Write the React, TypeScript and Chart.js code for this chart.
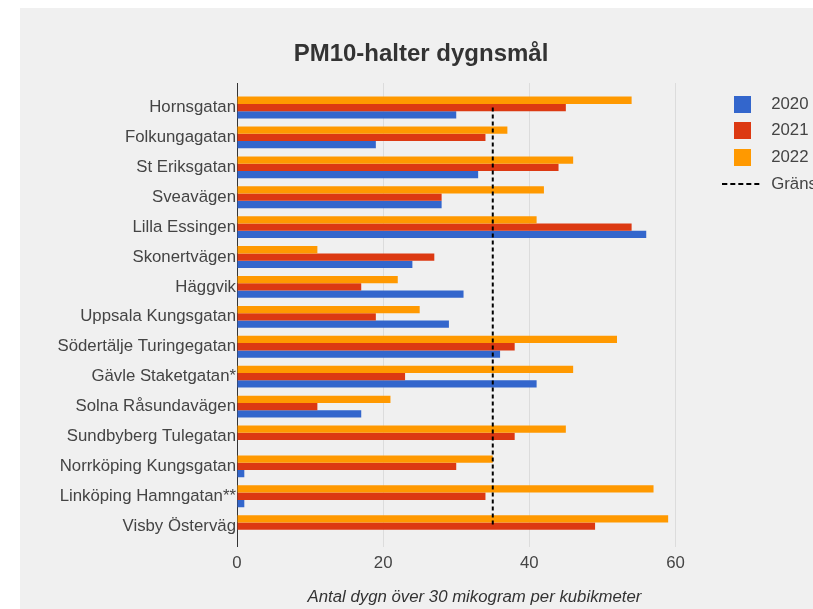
import { useEffect, useRef } from 'react';
import { Chart, registerables } from 'chart.js';

Chart.register(...registerables);

const categories = [
  'Hornsgatan',
  'Folkungagatan',
  'St Eriksgatan',
  'Sveavägen',
  'Lilla Essingen',
  'Skonertvägen',
  'Häggvik',
  'Uppsala Kungsgatan',
  'Södertälje Turingegatan',
  'Gävle Staketgatan*',
  'Solna Råsundavägen',
  'Sundbyberg Tulegatan',
  'Norrköping Kungsgatan',
  'Linköping Hamngatan**',
  'Visby Österväg',
];

const values2020: (number | null)[] = [30, 19, 33, 28, 56, 24, 31, 29, 36, 41, 17, null, 1, 1, null];
const values2021: (number | null)[] = [45, 34, 44, 28, 54, 27, 17, 19, 38, 23, 11, 38, 30, 34, 49];
const values2022: (number | null)[] = [54, 37, 46, 42, 41, 11, 22, 25, 52, 46, 21, 45, 35, 57, 59];
const limitValue = 35;

const seriesLabels = ['2020', '2021', '2022'];
const limitLabel = 'Gränsvärde';
const xTicks = [0, 20, 40, 60];

const chartTitle = 'PM10-halter dygnsmål';
const xTitle = 'Antal dygn över 30 mikogram per kubikmeter';

const COLORS = ['#3366cc', '#dc3912', '#ff9900'];
const FONT = "'Liberation Sans', Arial, sans-serif";
const TEXT = '#444444';

function toPoints(vals: (number | null)[]) {
  return vals
    .map((v, i) => ({ x: v, y: i }))
    .filter((d) => d.x !== null);
}

function swatch(color: string) {
  const c = document.createElement('canvas');
  c.width = 17;
  c.height = 17;
  const g = c.getContext('2d')!;
  g.fillStyle = color;
  g.fillRect(0, 0, 17, 17);
  return c;
}

function dashSwatch() {
  const c = document.createElement('canvas');
  c.width = 40;
  c.height = 2;
  const g = c.getContext('2d')!;
  g.strokeStyle = '#000000';
  g.lineWidth = 2;
  g.setLineDash([5, 3]);
  g.beginPath();
  g.moveTo(0, 1);
  g.lineTo(40, 1);
  g.stroke();
  return c;
}

export default function App() {
  const ref = useRef<HTMLCanvasElement | null>(null);

  useEffect(() => {
    if (!ref.current) return;
    Chart.defaults.font.family = FONT;
    const swatches = COLORS.map(swatch);
    const dash = dashSwatch();

    // datasets drawn top-to-bottom within a group: 2022, 2021, 2020
    const chart = new Chart(ref.current, {
      type: 'bar',
      data: {
        datasets: [
          {
            label: seriesLabels[2],
            data: toPoints(values2022) as any,
            backgroundColor: COLORS[2],
            categoryPercentage: 0.73,
            barPercentage: 1.0,
            borderWidth: 0,
          },
          {
            label: seriesLabels[1],
            data: toPoints(values2021) as any,
            backgroundColor: COLORS[1],
            categoryPercentage: 0.73,
            barPercentage: 1.0,
            borderWidth: 0,
          },
          {
            label: seriesLabels[0],
            data: toPoints(values2020) as any,
            backgroundColor: COLORS[0],
            categoryPercentage: 0.73,
            barPercentage: 1.0,
            borderWidth: 0,
          },
          {
            type: 'line',
            label: limitLabel,
            data: categories.map((_, i) => ({ x: limitValue, y: i })) as any,
            borderColor: '#000000',
            borderWidth: 2,
            borderDash: [4, 3],
            pointRadius: 0,
            fill: false,
            order: -1,
          } as any,
        ],
      },
      options: {
        indexAxis: 'y',
        animation: false,
        responsive: false,
        maintainAspectRatio: false,
        layout: { padding: 0 },
        plugins: {
          title: {
            display: true,
            text: chartTitle,
            color: '#333333',
            font: { family: FONT, size: 24, weight: 'bold' },
            padding: { top: 31.6, bottom: 14.6 },
          },
          legend: {
            display: true,
            position: 'right',
            align: 'start',
            fullSize: false,
            maxWidth: 110,
            title: {
              display: true,
              text: '',
              padding: { top: 3.0, bottom: 0 },
              font: { size: 1, lineHeight: 0 },
            },
            labels: {
              usePointStyle: true,
              pointStyleWidth: 41,
              padding: 9.8,
              color: TEXT,
              font: { family: FONT, size: 16.8 },
              generateLabels: () => {
                const items: any[] = seriesLabels.map((lbl, k) => ({
                  text: lbl,
                  fillStyle: COLORS[k],
                  strokeStyle: COLORS[k],
                  lineWidth: 0,
                  pointStyle: swatches[k],
                  hidden: false,
                  datasetIndex: 2 - k,
                  fontColor: TEXT,
                }));
                items.push({
                  text: limitLabel,
                  fillStyle: 'rgba(0,0,0,0)',
                  strokeStyle: '#000000',
                  lineWidth: 0,
                  pointStyle: dash,
                  hidden: false,
                  datasetIndex: 3,
                  fontColor: TEXT,
                });
                return items;
              },
            },
          },
          tooltip: { enabled: false },
        },
        scales: {
          x: {
            type: 'linear',
            bounds: 'data',
            offset: false,
            min: 0,
            max: 65,
            grid: {
              drawTicks: false,
              offset: false,
              color: (ctx: any) => (ctx.tick && ctx.tick.value === 0 ? 'rgba(0,0,0,0)' : '#dcdcdc'),
              lineWidth: 1,
            },
            border: { display: false },
            afterBuildTicks: (scale: any) => {
              scale.ticks = xTicks.map((v) => ({ value: v }));
            },
            ticks: {
              color: TEXT,
              padding: 6.5,
              includeBounds: false,
              font: { family: FONT, size: 16.8 },
            },
            title: {
              display: true,
              text: xTitle,
              color: '#333333',
              font: { family: FONT, size: 16.8, style: 'italic' },
              padding: { top: 7.26, bottom: 20.92 },
            },
          },
          y: {
            type: 'linear',
            bounds: 'data',
            offset: false,
            reverse: true,
            min: -0.82,
            max: 14.68,
            grid: { display: false, drawTicks: false, offset: false },
            border: { display: true, color: '#333333', width: 1 },
            afterBuildTicks: (scale: any) => {
              scale.ticks = categories.map((_, i) => ({ value: i }));
            },
            afterFit: (scale: any) => {
              scale.width = 217;
            },
            ticks: {
              autoSkip: false,
              includeBounds: false,
              color: TEXT,
              padding: 1,
              font: { family: FONT, size: 16.8 },
              callback: (v: any) => categories[v as number] ?? '',
            },
          },
        },
      },
    } as any);

    return () => chart.destroy();
  }, []);

  return (
    <div
      style={{
        position: 'fixed',
        left: 20,
        top: 8,
        width: 793,
        height: 601,
        overflow: 'hidden',
        background: '#f0f0f0',
      }}
    >
      <canvas ref={ref} width={802} height={620} style={{ display: 'block', width: 802, height: 620 }} />
    </div>
  );
}
